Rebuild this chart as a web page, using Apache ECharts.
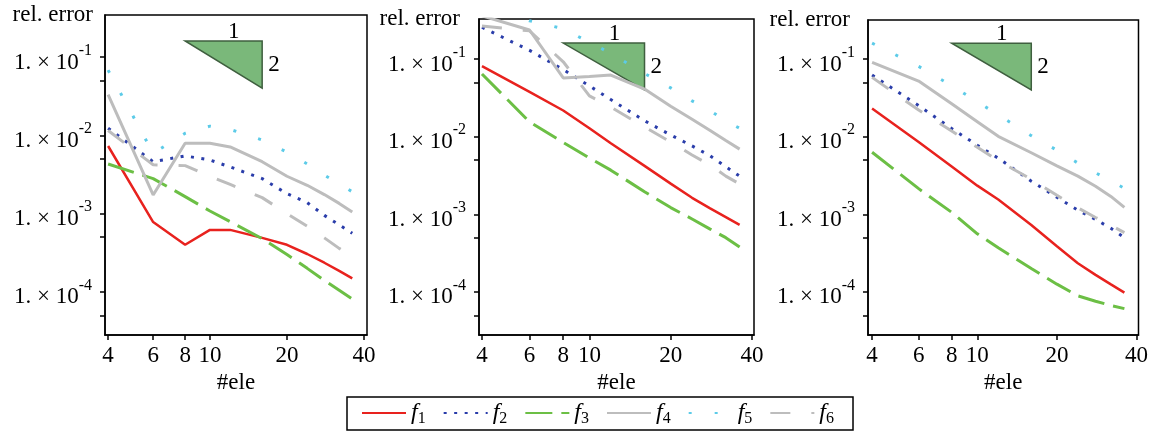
<!DOCTYPE html>
<html>
<head>
<meta charset="utf-8">
<script src="https://cdn.jsdelivr.net/npm/echarts@6/dist/echarts.min.js"></script>
<style>
  html, body { margin: 0; padding: 0; background: #fff; }
  #chart { width: 1151px; height: 437px; }
</style>
</head>
<body>
<div id="chart"></div>
<script>
// number of elements (x values shared by all panels)
const ELE = [4, 6, 8, 10, 12, 16, 20, 24, 28, 32, 36];

// left panel
const f1A = [7.3e-3, 7.8e-4, 4.0e-4, 6.2e-4, 6.2e-4, 4.9e-4, 4.0e-4, 3.05e-4, 2.36e-4, 1.86e-4, 1.49e-4];
const f2A = [1.23e-2, 4.6e-3, 5.45e-3, 4.84e-3, 3.94e-3, 2.8e-3, 1.8e-3, 1.38e-3, 9.5e-4, 7.2e-4, 5.6e-4];
const f3A = [4.3e-3, 2.8e-3, 1.65e-3, 1.08e-3, 7.9e-4, 4.8e-4, 3.0e-4, 2.0e-4, 1.4e-4, 1.05e-4, 8.1e-5];
const f4A = [3.3e-2, 1.73e-3, 7.9e-3, 7.9e-3, 7.1e-3, 4.6e-3, 3.0e-3, 2.3e-3, 1.75e-3, 1.35e-3, 1.05e-3];
const f5A = [6.8e-2, 5.9e-3, 1.06e-2, 1.31e-2, 1.19e-2, 8.7e-3, 6.1e-3, 4.3e-3, 3.1e-3, 2.4e-3, 1.9e-3];
const f6A = [1.15e-2, 4.2e-3, 4.1e-3, 3.0e-3, 2.36e-3, 1.6e-3, 1.0e-3, 6.9e-4, 4.9e-4, 3.6e-4, 2.8e-4];

// middle panel
const f1B = [8.1e-2, 3.76e-2, 2.17e-2, 1.28e-2, 8.2e-3, 4.2e-3, 2.48e-3, 1.63e-3, 1.19e-3, 9.2e-4, 7.3e-4];
const f2B = [2.56e-1, 1.29e-1, 7.3e-2, 4.5e-2, 3.0e-2, 1.6e-2, 1.05e-2, 7.6e-3, 5.65e-3, 4.1e-3, 3.1e-3];
const f3B = [6.4e-2, 1.55e-2, 8.4e-3, 5.3e-3, 3.7e-3, 1.95e-3, 1.22e-3, 8.7e-4, 6.45e-4, 5.0e-4, 3.8e-4];
const f4B = [3.6e-1, 2.36e-1, 5.7e-2, 5.96e-2, 6.2e-2, 4.1e-2, 2.46e-2, 1.67e-2, 1.2e-2, 8.9e-3, 6.9e-3];
const f5B = [6.0e-1, 3.1e-1, 2.45e-1, 1.64e-1, 1.18e-1, 6.5e-2, 4.24e-2, 2.88e-2, 2.16e-2, 1.59e-2, 1.28e-2];
const f6B = [2.65e-1, 2.3e-1, 9.2e-2, 3.34e-2, 2.4e-2, 1.33e-2, 8.5e-3, 5.8e-3, 4.3e-3, 3.1e-3, 2.46e-3];

// right panel
const f1C = [2.31e-2, 8.55e-3, 4.14e-3, 2.34e-3, 1.55e-3, 7.3e-4, 3.87e-4, 2.34e-4, 1.66e-4, 1.25e-4, 9.8e-5];
const f2C = [6.22e-2, 2.51e-2, 1.27e-2, 7.76e-3, 5.28e-3, 2.67e-3, 1.66e-3, 1.13e-3, 8.6e-4, 6.6e-4, 5.0e-4];
const f3C = [6.3e-3, 2.14e-3, 1.06e-3, 5.6e-4, 3.7e-4, 2.0e-4, 1.26e-4, 8.9e-5, 7.6e-5, 6.7e-5, 6.1e-5];
const f4C = [9.06e-2, 5.2e-2, 2.65e-2, 1.56e-2, 1.01e-2, 6.2e-3, 4.2e-3, 3.1e-3, 2.3e-3, 1.7e-3, 1.23e-3];
const f5C = [1.6e-1, 8.04e-2, 4.54e-2, 2.81e-2, 1.91e-2, 1.03e-2, 6.7e-3, 4.57e-3, 3.43e-3, 2.69e-3, 2.16e-3];
const f6C = [5.8e-2, 2.2e-2, 1.18e-2, 7.3e-3, 4.9e-3, 2.83e-3, 1.76e-3, 1.21e-3, 9.1e-4, 7.2e-4, 5.8e-4];

// slope triangle (x from, x to, y top, y bottom)
const slopeX = [8, 16];
const slopeY = [0.16, 0.04];

// ticks
const xTicks = [4, 6, 8, 10, 20, 40];
const yTicks = [5e-5, 1e-4, 5e-4, 1e-3, 5e-3, 1e-2, 5e-2, 1e-1];
const yLabels = [1e-4, 1e-3, 1e-2, 1e-1];

const seriesNames = ['f1', 'f2', 'f3', 'f4', 'f5', 'f6'];
const panels = [
  [f1A, f2A, f3A, f4A, f5A, f6A],
  [f1B, f2B, f3B, f4B, f5B, f6B],
  [f1C, f2C, f3C, f4C, f5C, f6C]
];

const FONT = '"Liberation Serif", "DejaVu Serif", serif';

const lineStyles = {
  f1: { color: '#e8221e', width: 2.5, type: 'solid' },
  f2: { color: '#2a3daa', width: 3, type: [3, 7.5] },
  f3: { color: '#6cbf45', width: 3, type: [27, 9] },
  f4: { color: '#bdbdbd', width: 3, type: 'solid' },
  f5: { color: '#5ccbe8', width: 3, type: [3, 23] },
  f6: { color: '#bdbdbd', width: 3, type: [20, 21] }
};

const grids = [
  { left: 105, top: 15, width: 262, height: 320 },
  { left: 479, top: 19, width: 275, height: 316 },
  { left: 868, top: 20, width: 272, height: 315 }
];
const xRange = [[3.89, 41.1], [3.9, 40.7], [3.86, 40.7]];
const yRange = [[2.82e-5, 0.3435], [2.79e-5, 0.327], [2.79e-5, 0.318]];
const namePad = [12, 19, 18];

const chart = echarts.init(document.getElementById('chart'));

const xAxes = grids.map((g, i) => ({
  type: 'log',
  gridIndex: i,
  min: xRange[i][0],
  max: xRange[i][1],
  axisLine: { show: true, onZero: false, lineStyle: { color: '#000', width: 1.5 } },
  axisTick: { show: true, length: 5, customValues: xTicks, lineStyle: { color: '#000', width: 1.5 } },
  axisLabel: { customValues: xTicks, margin: 9, fontSize: 23, fontFamily: FONT, color: '#000' },
  splitLine: { show: false },
  minorTick: { show: false },
  name: '#ele',
  nameLocation: 'middle',
  nameGap: 31,
  nameTextStyle: { fontSize: 23, fontFamily: FONT, color: '#000' }
}));

const yAxes = grids.map((g, i) => ({
  type: 'log',
  gridIndex: i,
  min: yRange[i][0],
  max: yRange[i][1],
  axisLine: { show: true, lineStyle: { color: '#000', width: 1.5 } },
  axisTick: { show: true, length: 5, customValues: yTicks, lineStyle: { color: '#000', width: 1.5 } },
  axisLabel: {
    customValues: yLabels,
    margin: 13,
    padding: [11, 0, 0, 0],
    formatter: function (v) {
      const e = Math.round(Math.log10(v));
      return '{m|1. × 10}{e|' + e + '}';
    },
    rich: {
      m: { fontSize: 23, fontFamily: FONT, color: '#000', verticalAlign: 'middle' },
      e: { fontSize: 16, fontFamily: FONT, color: '#000', verticalAlign: 'middle', padding: [0, 0, 24, 0] }
    }
  },
  splitLine: { show: false },
  minorTick: { show: false },
  name: 'rel. error',
  nameLocation: 'end',
  nameGap: 0,
  nameTextStyle: {
    fontSize: 23, fontFamily: FONT, color: '#000',
    align: 'right', verticalAlign: 'middle', padding: [0, namePad[i], 0, 0]
  }
}));

const series = [];
panels.forEach((vals, p) => {
  series.push({
    type: 'custom',
    xAxisIndex: p,
    yAxisIndex: p,
    z: 1,
    silent: true,
    encode: { x: [0, 1], y: [2, 3] },
    data: [[slopeX[0], slopeX[1], slopeY[0], slopeY[1]]],
    renderItem: function (params, api) {
      const a = api.coord([api.value(0), api.value(2)]);
      const b = api.coord([api.value(1), api.value(2)]);
      const c = api.coord([api.value(1), api.value(3)]);
      return {
        type: 'group',
        children: [
          { type: 'polygon', shape: { points: [a, b, c] },
            style: { fill: '#7ab87a', stroke: '#3f5f3f', lineWidth: 1.5 } },
          { type: 'text', style: { text: '1', x: a[0] + 0.63 * (b[0] - a[0]), y: a[1] + 2,
            align: 'center', verticalAlign: 'bottom', font: '23px ' + FONT, fill: '#000' } },
          { type: 'text', style: { text: '2', x: b[0] + 6, y: (b[1] + c[1]) / 2,
            align: 'left', verticalAlign: 'middle', font: '23px ' + FONT, fill: '#000' } }
        ]
      };
    }
  });
  vals.forEach((v, k) => {
    const name = seriesNames[k];
    series.push({
      name: name,
      type: 'line',
      xAxisIndex: p,
      yAxisIndex: p,
      z: 3,
      symbol: 'none',
      showSymbol: false,
      data: ELE.map((x, i) => [x, v[i]]),
      lineStyle: lineStyles[name],
      itemStyle: { color: lineStyles[name].color }
    });
  });
});

chart.setOption({
  animation: false,
  grid: grids.map(g => Object.assign({ show: true, borderColor: '#000', borderWidth: 1.5, containLabel: false }, g)),
  xAxis: xAxes,
  yAxis: yAxes,
  legend: {
    data: seriesNames,
    left: 347,
    top: 397,
    orient: 'horizontal',
    itemWidth: 44,
    itemHeight: 12,
    itemGap: 17,
    padding: [4, 19, 3, 14],
    borderColor: '#000',
    borderWidth: 1.5,
    selectedMode: false,
    itemStyle: { opacity: 0 },
    formatter: function (name) {
      return '{i|f}{s|' + name.slice(1) + '}';
    },
    textStyle: {
      rich: {
        i: { fontSize: 24, fontStyle: 'italic', fontFamily: FONT, color: '#000', verticalAlign: 'middle' },
        s: { fontSize: 16, fontFamily: FONT, color: '#000', verticalAlign: 'middle', padding: [12, 0, 0, 0] }
      }
    }
  },
  series: series
});
</script>
</body>
</html>
